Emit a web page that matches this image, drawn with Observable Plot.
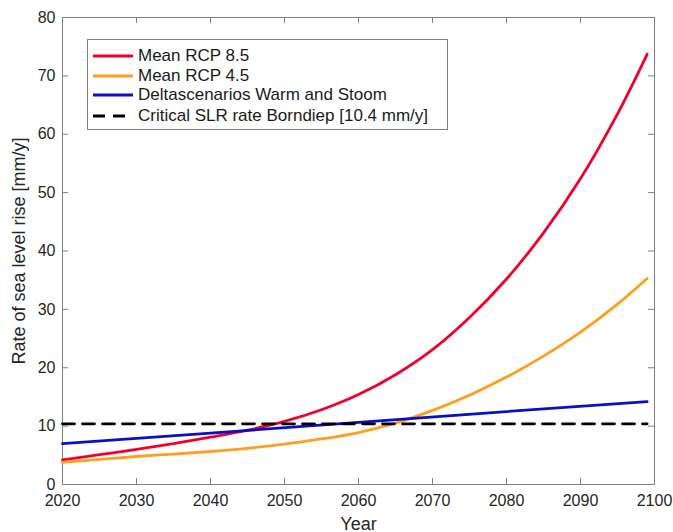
<!DOCTYPE html>
<html><head><meta charset="utf-8">
<script src="https://cdn.jsdelivr.net/npm/d3@7"></script>
<script src="https://cdn.jsdelivr.net/npm/@observablehq/plot@0.6"></script>
<style>
body{margin:0;background:#fff;}
#wrap{position:relative;width:673px;height:532px;font-family:Helvetica,"Liberation Sans",Arial,sans-serif;}
#legend{position:absolute;left:87px;top:39px;width:361px;height:91px;border:1px solid #808080;background:#fff;box-sizing:border-box;}
.row{position:absolute;left:5px;height:20px;display:flex;align-items:center;font-size:17px;color:#1a1a1a;white-space:nowrap;}
.row svg{margin-right:5px;}
</style>
</head><body>
<div id="wrap"><div id="chart"></div><div id="legend"></div></div>
<script>
const years = [2020,2025,2030,2035,2040,2045,2050,2055,2060,2065,2070,2075,2080,2085,2090,2095,2099];
const rcp85 = [4.2,5.1,6.0,7.0,8.1,9.3,10.8,12.8,15.4,18.8,23.1,28.6,35.2,43.1,52.4,63.5,73.7];
const rcp45 = [3.8,4.3,4.8,5.2,5.65,6.2,6.9,7.8,8.9,10.5,12.7,15.3,18.4,22.0,26.1,30.9,35.3];
const deltaYears = [2020,2040,2060,2080,2099];
const delta = [7.0,8.8,10.65,12.5,14.2];
const criticalYears = [2020,2099];
const criticalRate = 10.4;
const xTicks = [2020,2030,2040,2050,2060,2070,2080,2090,2100];
const yTicks = [0,10,20,30,40,50,60,70,80];
const seriesNames = ["Mean RCP 8.5","Mean RCP 4.5","Deltascenarios Warm and Stoom","Critical SLR rate Borndiep [10.4 mm/y]"];
const seriesColors = ["#f2002b","#ff9e1f","#0a10c2","#000000"];

const W=673,H=532,mL=62,mR=19,mT=17,mB=48;
const pw=W-mL-mR, ph=H-mT-mB, tl=6;
const font='Helvetica,"Liberation Sans",Arial,sans-serif';
const axisColor="#808080";

const r85 = years.map((y,i)=>({year:y,v:rcp85[i]}));
const r45 = years.map((y,i)=>({year:y,v:rcp45[i]}));
const dl = deltaYears.map((y,i)=>({year:y,v:delta[i]}));
const cr = criticalYears.map(y=>({year:y,v:criticalRate}));

const chart = Plot.plot({
  width:W,height:H,marginLeft:mL,marginRight:mR,marginTop:mT,marginBottom:mB,
  style:{fontFamily:font,fontSize:"16px",color:"#262626",background:"#fff",overflow:"visible"},
  x:{domain:[2020,2100]},
  y:{domain:[0,80]},
  marks:[
    Plot.frame({stroke:axisColor}),
    Plot.tickX(xTicks,{x:d=>d,stroke:axisColor,insetTop:ph-tl}),
    Plot.tickX(xTicks,{x:d=>d,stroke:axisColor,insetBottom:ph-tl}),
    Plot.tickY(yTicks,{y:d=>d,stroke:axisColor,insetRight:pw-tl}),
    Plot.tickY(yTicks,{y:d=>d,stroke:axisColor,insetLeft:pw-tl}),
    Plot.axisX(xTicks,{tickSize:0,tickPadding:10,tickFormat:d=>String(d),fontSize:16,label:null}),
    Plot.axisY(yTicks,{tickSize:0,tickPadding:7,tickFormat:d=>String(d),fontSize:16,label:null}),
    Plot.axisX([],{tickSize:0,fontSize:18,label:"Year",labelAnchor:"center",labelArrow:"none",labelOffset:45}),
    Plot.axisY([],{tickSize:0,fontSize:18,label:"Rate of sea level rise [mm/y]",labelAnchor:"center",labelArrow:"none",labelOffset:50}),
    Plot.line(r85,{x:"year",y:"v",stroke:seriesColors[0],strokeWidth:2.8,curve:"catmull-rom"}),
    Plot.line(r45,{x:"year",y:"v",stroke:seriesColors[1],strokeWidth:2.8,curve:"catmull-rom"}),
    Plot.line(dl,{x:"year",y:"v",stroke:seriesColors[2],strokeWidth:2.8}),
    Plot.line(cr,{x:"year",y:"v",stroke:seriesColors[3],strokeWidth:2.8,strokeDasharray:"12,8"})
  ]
});
document.getElementById("chart").appendChild(chart);

const leg = document.getElementById("legend");
const rowTops=[6,25.5,45,65.5];
seriesNames.forEach((n,i)=>{
  const row=document.createElement("div");
  row.className="row";
  row.style.top=rowTops[i]+"px";
  const dash = i===3 ? 'stroke-dasharray="12,8"' : '';
  row.innerHTML=`<svg width="40" height="6"><line x1="0" x2="40" y1="3" y2="3" stroke="${seriesColors[i]}" stroke-width="2.8" ${dash}/></svg><span>${n}</span>`;
  leg.appendChild(row);
});
</script>
</body></html>
